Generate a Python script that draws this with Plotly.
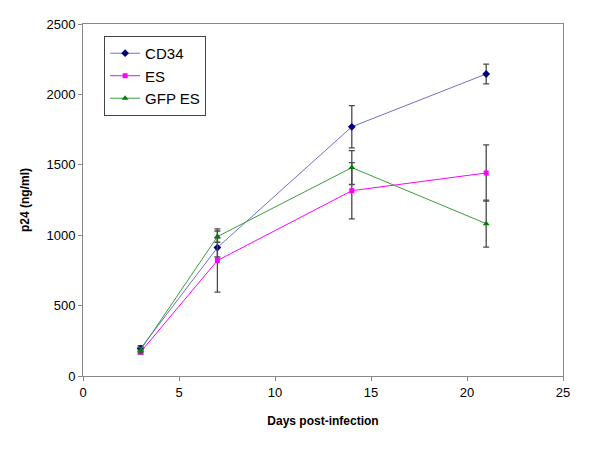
import plotly.graph_objects as go

days = [3, 7, 14, 21]

cd34 = [195, 912, 1770, 2145]
cd34_err = [20, 67, 150, 70]

es = [170, 820, 1316, 1442]
es_err = [15, 225, 200, 200]

gfp_es = [185, 990, 1480, 1082]
gfp_es_err = [18, 40, 120, 167]

fig = go.Figure()

series = [
    ("CD34", cd34, cd34_err, "#7070C8", "#000080", "diamond", 6),
    ("ES", es, es_err, "#FF00FF", "#FF00FF", "square", 5),
    ("GFP ES", gfp_es, gfp_es_err, "#3C9C3C", "#008000", "triangle-up", 6),
]

for name, vals, errs, lcol, mcol, sym, msize in series:
    fig.add_trace(go.Scatter(
        x=days, y=vals, name=name, mode="lines+markers",
        line=dict(color=lcol, width=1),
        marker=dict(color=mcol, symbol=sym, size=msize),
        error_y=dict(type="data", array=errs, visible=True,
                     color="#4a4a4a", thickness=1.3, width=3),
    ))

fig.update_layout(
    width=600, height=450,
    margin=dict(l=83, r=37, t=24, b=74),
    paper_bgcolor="white", plot_bgcolor="white",
    font=dict(family="Liberation Sans, Arial", color="black", size=13),
    legend=dict(x=0.044, y=0.966, xanchor="left", yanchor="top",
                bordercolor="#444444", borderwidth=1, bgcolor="white",
                font=dict(size=15), tracegroupgap=0, itemwidth=30),
)

fig.update_xaxes(
    range=[0, 25], tickvals=[0, 5, 10, 15, 20, 25],
    showgrid=False, zeroline=False, automargin=False,
    showline=True, linecolor="#888888", linewidth=1, mirror=True,
    ticks="outside", ticklen=4, tickcolor="#888888",
    title=dict(text="<b>Days post-infection</b>", font=dict(size=12), standoff=18),
)
fig.update_yaxes(
    range=[0, 2500], tickvals=[0, 500, 1000, 1500, 2000, 2500],
    showgrid=False, zeroline=False, automargin=False,
    showline=True, linecolor="#888888", linewidth=1, mirror=True,
    ticks="outside", ticklen=4, tickcolor="#888888",
    title=dict(text="<b>p24 (ng/ml)</b>", font=dict(size=12), standoff=14),
)

fig.write_html("out.html", config={"displayModeBar": False},
               post_script="document.body.style.margin='0';")
